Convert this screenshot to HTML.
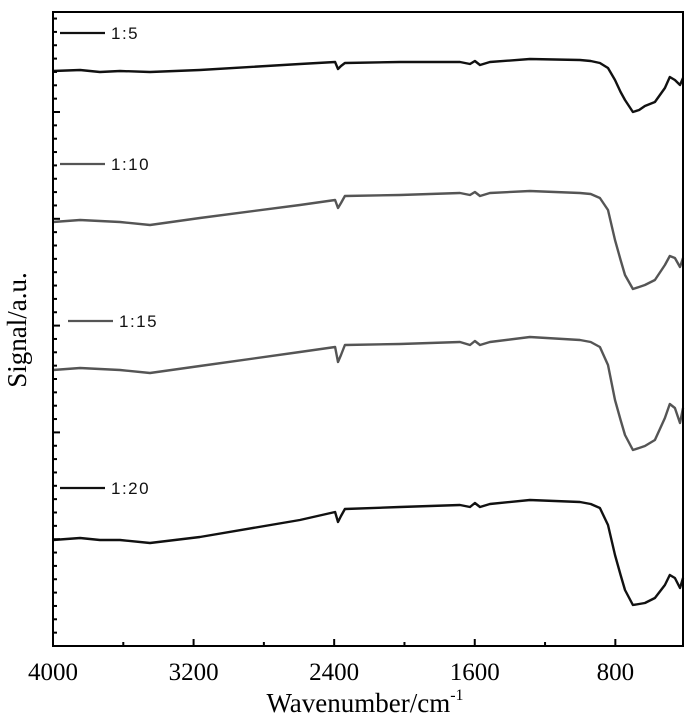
<!DOCTYPE html>
<html><head><meta charset="utf-8"><style>
html,body{margin:0;padding:0;background:#fff;}
svg{display:block;}
</style></head><body>
<svg id="chart" width="700" height="727" xmlns="http://www.w3.org/2000/svg"></svg>
<script>
const wavenumbers=[4000,3846,3733,3619,3448,3164,2595,2395,2378,2361,2339,2026,1684,1627,1599,1570,1514,1286,1001,940,888,842,802,770,745,700,665,632,575,518,490,461,432,415];
const series15=[575,576,574,575,574,576,582,584,577,580,583,584,584,582,585,581,584,587,586,585,583,578,566,554,546,534,536,540,544,558,569,566,561,568];
const series110=[424,426,425,424,421,428,441,446,438,443,450,451,453,451,454,450,453,455,453,452,448,436,406,386,371,357,359,361,366,381,390,388,379,388];
const series115=[276,278,277,276,273,280,294,299,284,291,301,302,304,301,305,301,304,309,306,304,299,281,246,226,211,196,198,200,206,228,242,238,223,238];
const series120=[106,108,106,106,103,109,126,134,124,130,137,139,141,139,143,139,142,146,144,142,138,121,91,71,56,41,42,43,48,61,71,68,58,68];
const seriesNames=["1:5","1:10","1:15","1:20"];
const xTicks=[4000,3200,2400,1600,800];
const xMin=4000,xMax=415,yMin=0,yMax=634;
const L=53,R=683,T=12,B=646;
function xs(w){return L+(xMin-w)/(xMin-xMax)*(R-L);}
function ys(v){return B-(v-yMin)/(yMax-yMin)*(B-T);}
const NS="http://www.w3.org/2000/svg";
const svg=document.getElementById('chart');
function mk(t,a){const e=document.createElementNS(NS,t);for(const k in a)e.setAttribute(k,a[k]);svg.appendChild(e);return e;}
const allSeries=[series15,series110,series115,series120];
const colors=["#111","#555","#555","#111"];
const legendY=[33,164,321,488];
const legendX=[60,60,68,60];
allSeries.forEach((s,i)=>{
  const pts=s.map((v,j)=>xs(wavenumbers[j]).toFixed(1)+","+ys(v).toFixed(1)).join(" ");
  const pl=mk('polyline',{points:pts,fill:'none',stroke:colors[i],'stroke-width':2.4,'stroke-linejoin':'round'});
  
  
  const ln=mk('line',{x1:legendX[i],x2:legendX[i]+45,y1:legendY[i],y2:legendY[i],stroke:colors[i],'stroke-width':2.2});
  
  
  const tx=mk('text',{x:legendX[i]+51,y:legendY[i]+6,'font-family':'Liberation Sans, sans-serif','font-size':17,'letter-spacing':'1.5',fill:'#111'});
  tx.textContent=seriesNames[i];
  
  
});
const fr=mk('rect',{x:L,y:T,width:R-L,height:B-T,fill:'none',stroke:'#000','stroke-width':2});


for(let k=0;k<48;k++){
  const y=B-k*13.35; if(y<T+2)break;
  const major=(k%8===0);
  mk('line',{x1:L,x2:L+(major?7:4),y1:y,y2:y,stroke:'#000','stroke-width':2});
}
for(let w=4000;w>=415;w-=400){
  const major=(w%800===0);
  mk('line',{x1:xs(w),x2:xs(w),y1:B,y2:B-(major?7:4),stroke:'#000','stroke-width':2});
}
xTicks.forEach(w=>{
  const t=mk('text',{x:xs(w),y:680,'text-anchor':'middle','font-family':'Liberation Serif, serif','font-size':25,fill:'#000'});
  t.textContent=w;
  
  
});
const xl=mk('text',{x:365,y:712,'text-anchor':'middle','font-family':'Liberation Serif, serif','font-size':27,fill:'#000'});
xl.innerHTML='Wavenumber/cm<tspan dy="-12" font-size="16">-1</tspan>';


const yl=mk('text',{x:0,y:0,transform:'translate(26,330) rotate(-90)','text-anchor':'middle','font-family':'Liberation Serif, serif','font-size':27,fill:'#000'});
yl.textContent='Signal/a.u.';


</script>
</body></html>
